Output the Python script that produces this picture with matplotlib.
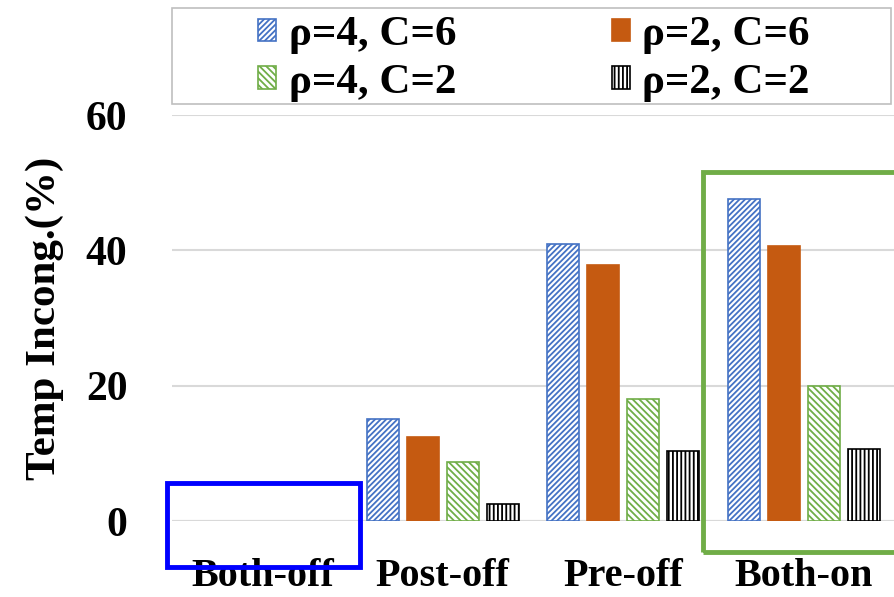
import matplotlib
matplotlib.use("Agg")
import matplotlib.pyplot as plt
import numpy as np
from matplotlib.patches import Rectangle, Patch

categories = ["Both-off", "Post-off", "Pre-off", "Both-on"]
series_labels = ["ρ=4, C=6", "ρ=2, C=6", "ρ=4, C=2", "ρ=2, C=2"]
rho4_c6 = [0, 15.1, 40.9, 47.6]
rho2_c6 = [0, 12.4, 37.9, 40.6]
rho4_c2 = [0, 8.7, 18.1, 19.9]
rho2_c2 = [0, 2.5, 10.3, 10.7]
yticks = [0, 20, 40, 60]

plt.rcParams['font.family'] = ['Liberation Serif', 'DejaVu Serif']
plt.rcParams['hatch.linewidth'] = 1.3

W, H = 894, 597
fig = plt.figure(figsize=(W / 100, H / 100), dpi=100)

def fx(px):
    return px / W

def fy(py):
    return 1 - py / H

ax = fig.add_axes([fx(172), fy(521), fx(894) - fx(172), fy(115) - fy(521)])

x = np.arange(len(categories))
bw = 0.178
offs = np.array([-1.5, -0.5, 0.5, 1.5]) * 0.222
styles = [
    dict(facecolor="white", edgecolor="#4472C4", hatch="//////"),
    dict(facecolor="#C55A11", edgecolor="#C55A11", hatch=None),
    dict(facecolor="white", edgecolor="#70AD47", hatch="\\\\\\\\\\"),
    dict(facecolor="white", edgecolor="black", hatch="||||"),
]
data = [rho4_c6, rho2_c6, rho4_c2, rho2_c2]
handles = []
for i, (vals, st) in enumerate(zip(data, styles)):
    bars = ax.bar(x + offs[i], vals, bw, linewidth=1.2, zorder=3, **st)
    for b, v in zip(bars, vals):
        if v == 0:
            b.set_visible(False)
    handles.append(Patch(linewidth=1.2, label=series_labels[i], **st))

ax.set_xlim(-0.5, 3.5)
ax.set_ylim(0, 60)
ax.set_yticks(yticks)
ax.set_xticks(x)
ax.set_xticklabels(categories, fontsize=29, fontweight="bold")
ax.set_yticklabels([str(v) for v in yticks], fontsize=30, fontweight="bold")
ax.tick_params(axis="both", length=0)
ax.tick_params(axis="x", pad=27)
ax.tick_params(axis="y", pad=32)
ax.grid(axis="y", color="#d9d9d9", linewidth=1.5, zorder=0)
for s in ax.spines.values():
    s.set_visible(False)
ax.axhline(0, color="#d9d9d9", linewidth=1.5, zorder=1)

fig.text(fx(45), fy(318), "Temp Incong.(%)", rotation=90, fontsize=31, fontweight="bold",
         ha="center", va="center")

# legend frame
fig.patches.append(Rectangle((fx(172), fy(104)), fx(891) - fx(172), fy(8) - fy(104),
                             transform=fig.transFigure, fill=False, edgecolor="#bfbfbf",
                             linewidth=1.2, zorder=1))

order = [0, 2, 1, 3]
leg = fig.legend([handles[i] for i in order], [series_labels[i] for i in order], ncol=2,
                 loc="center", bbox_to_anchor=(fx(534), fy(59)),
                 prop={"weight": "bold", "size": 31},
                 frameon=False, handlelength=0.42, handleheight=0.42, handletextpad=0.3,
                 columnspacing=3.6, labelspacing=0.22, borderpad=0.0)

fig.patches.append(Rectangle((fx(167), fy(567)), fx(360) - fx(167), fy(483) - fy(567),
                             transform=fig.transFigure, fill=False, edgecolor="#0000FF",
                             linewidth=3.5, zorder=10))
fig.patches.append(Rectangle((fx(703), fy(552)), fx(896) - fx(703), fy(172) - fy(552),
                             transform=fig.transFigure, fill=False, edgecolor="#70AD47",
                             linewidth=3.5, zorder=10))

fig.savefig("out.png", dpi=100)
